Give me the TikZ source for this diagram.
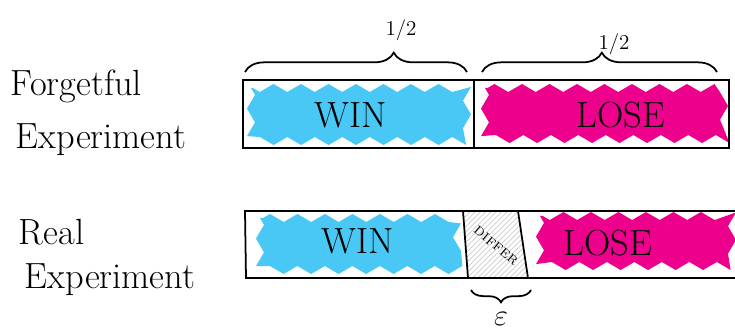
\documentclass[tikz,border=0pt]{standalone}
\usepackage{amsmath}
\usetikzlibrary{decorations.pathreplacing,decorations.pathmorphing,patterns}
\definecolor{winblue}{RGB}{73,200,245}
\definecolor{losepink}{RGB}{236,0,140}

\begin{document}
\begin{tikzpicture}[x=0.02cm, y=-0.02cm, line width=1pt,
	scribble/.style={decorate, decoration={zigzag, segment length=0.55cm, amplitude=0.08cm}},
	bracket/.style={decorate, decoration={brace, amplitude=#1}},
	label/.style={font=\huge, anchor=west, inner sep=0pt},
	field/.style={font=\huge, inner sep=0pt},
]
\useasboundingbox (0,0) rectangle (735,334);

% Beschriftung links
\node[label] (forget) at (10,86) {Forgetful};
\node[label] (forgetexp) at (15,140) {Experiment};
\node[label] (real) at (18,232) {Real};
\node[label] (realexp) at (24,280) {Experiment};

% oberer Balken
\fill[winblue, scribble] (251,88) rectangle (467,141);
\fill[losepink, scribble] (485,88) rectangle (724,139);
\draw (243,80) rectangle (729,148);
\draw (474,80) -- (474,148);

\node[field] (topwin) at (351,115) {WIN};
\node[field] (toplose) at (621,115) {LOSE};

\coordinate (b1) at (245,72);
\coordinate (b2) at (467,72);
\coordinate (b3) at (482,72);
\coordinate (b4) at (717,72);
\draw[bracket=11pt, decoration={aspect=0.67}] (b1) -- (b2);
\draw[bracket=11pt, decoration={aspect=0.51}] (b3) -- (b4);
\node[font=\large] (halfwin) at (401,30) {1/2};
\node[font=\large] (halflose) at (614,44) {1/2};

% unterer Balken
\fill[winblue, scribble] (260,218) rectangle (457,270);
\fill[losepink, scribble] (540,216) rectangle (732,266);
\fill[pattern=north east lines, pattern color=gray!40] (463,211) -- (518,211) -- (528,278) -- (468,278) -- cycle;
\draw (735,211) -- (245,211) -- (246,278) -- (735,278);
\draw (463,211) -- (468,278);
\draw (518,211) -- (528,278);

\node[field] (botwin) at (358,241) {WIN};
\node[field] (botlose) at (608,243) {LOSE};
\node[font=\scriptsize, inner sep=0pt, rotate=-40] (differ) at (496,246) {DIFFER};

\coordinate (e1) at (531,290);
\coordinate (e2) at (471,290);
\draw[bracket=7pt, decoration={aspect=0.5}] (e1) -- (e2);
\node[font=\LARGE] (eps) at (501,319) {$\varepsilon$};

\end{tikzpicture}
\end{document}
